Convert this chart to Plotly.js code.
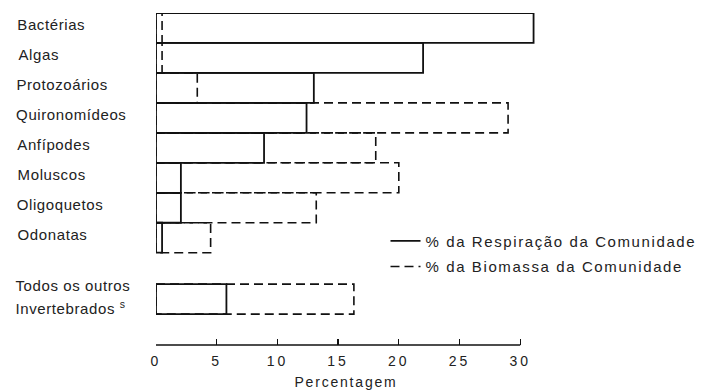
<!DOCTYPE html>
<html>
<head>
<meta charset="utf-8">
<script src="https://cdn.plot.ly/plotly-3.0.1.min.js"></script>
<style>
html,body{margin:0;padding:0;background:#fff;}
#chart{width:701px;height:390px;}
#chart .annotation-text{letter-spacing:0.6px;}
#chart g.xtick text{letter-spacing:3px !important;}
#chart .g-xtitle text{letter-spacing:1.8px;}
.legendtext{letter-spacing:1.6px;}
</style>
</head>
<body>
<div id="chart"></div>
<script>
const categories = ['Bactérias', 'Algas', 'Protozoários', 'Quironomídeos', 'Anfípodes', 'Moluscos', 'Oligoquetos', 'Odonatas', 'Todos os outros<br>Invertebrados <sup>s</sup>'];
const respiracao = [31.1, 22.0, 13.0, 12.4, 8.9, 2.05, 2.05, 0.5, 5.8];
const biomassa = [0.5, 0.5, 3.4, 29.0, 18.1, 20.0, 13.2, 4.5, 16.3];
const tickValues = [0, 5, 10, 15, 20, 25, 30];
const seriesNames = ['% da Respiração da Comunidade', '% da Biomassa da Comunidade'];

// row positions: consecutive rows, with a gap before the last group
const rowPos = categories.map((c, i) => i < categories.length - 1 ? i : i + 1.05);

function rectPath(values) {
  const xs = [], ys = [];
  values.forEach((v, i) => {
    const p = rowPos[i];
    xs.push(0, v, v, 0, 0, null);
    ys.push(p - 0.5, p - 0.5, p + 0.5, p + 0.5, p - 0.5, null);
  });
  return {x: xs, y: ys};
}

const bio = rectPath(biomassa);
const resp = rectPath(respiracao);

const traces = [
  {type: 'scatter', mode: 'lines', x: bio.x, y: bio.y, name: seriesNames[1],
   line: {color: '#111', width: 1.6, dash: '9px,5px'}, legendrank: 2, legendgroup: 'b',
   hoverinfo: 'skip', connectgaps: false},
  {type: 'scatter', mode: 'lines', x: resp.x, y: resp.y, name: seriesNames[0],
   line: {color: '#111', width: 1.8}, legendrank: 1, legendgroup: 'a',
   hoverinfo: 'skip', connectgaps: false}
];

const font = 'Liberation Sans, Arial, sans-serif';
const plotW = 380;
const annotations = [];
categories.forEach((c, i) => {
  const lines = c.split('<br>');
  lines.forEach((t, k) => {
    annotations.push({
      xref: 'paper', yref: 'y', x: (18 - 156) / plotW, y: rowPos[i],
      xanchor: 'left', yanchor: 'middle', showarrow: false, text: t,
      yshift: lines.length > 1 ? (k === 0 ? 14 : -8) : 3,
      font: {family: font, size: 15, color: '#222'}
    });
  });
});

const layout = {
  width: 701, height: 390,
  margin: {l: 156, r: 701 - 156 - plotW, t: 13, b: 45, autoexpand: false},
  paper_bgcolor: '#fff', plot_bgcolor: '#fff',
  showlegend: true,
  legend: {xref: 'container', yref: 'container', x: 385.5 / 701, y: 1 - 224.7 / 390,
    xanchor: 'left', yanchor: 'top', traceorder: 'grouped',
    tracegroupgap: 3, bgcolor: 'rgba(0,0,0,0)', itemwidth: 30,
    font: {family: font, size: 15, color: '#222'}},
  xaxis: {range: [0, 31.3], autorange: false, showgrid: false, zeroline: false, showline: false,
    tickvals: tickValues, ticktext: tickValues.map(String), ticks: 'inside', ticklen: 6,
    tickwidth: 1.3, tickcolor: '#111', ticklabelstandoff: 6,
    tickfont: {family: font, size: 14, color: '#222'},
    title: {text: 'Percentagem', standoff: 15, font: {family: font, size: 14, color: '#222'}}},
  yaxis: {range: [10.58, -0.5], autorange: false, showgrid: false, zeroline: false,
    showline: false, showticklabels: false, ticks: ''},
  shapes: [{type: 'line', xref: 'x', yref: 'paper', x0: tickValues[0], x1: tickValues[tickValues.length - 1],
    y0: 0, y1: 0, line: {color: '#111', width: 1.4}}],
  annotations: annotations
};

Plotly.newPlot('chart', traces, layout, {staticPlot: true, displayModeBar: false});
</script>
</body>
</html>
